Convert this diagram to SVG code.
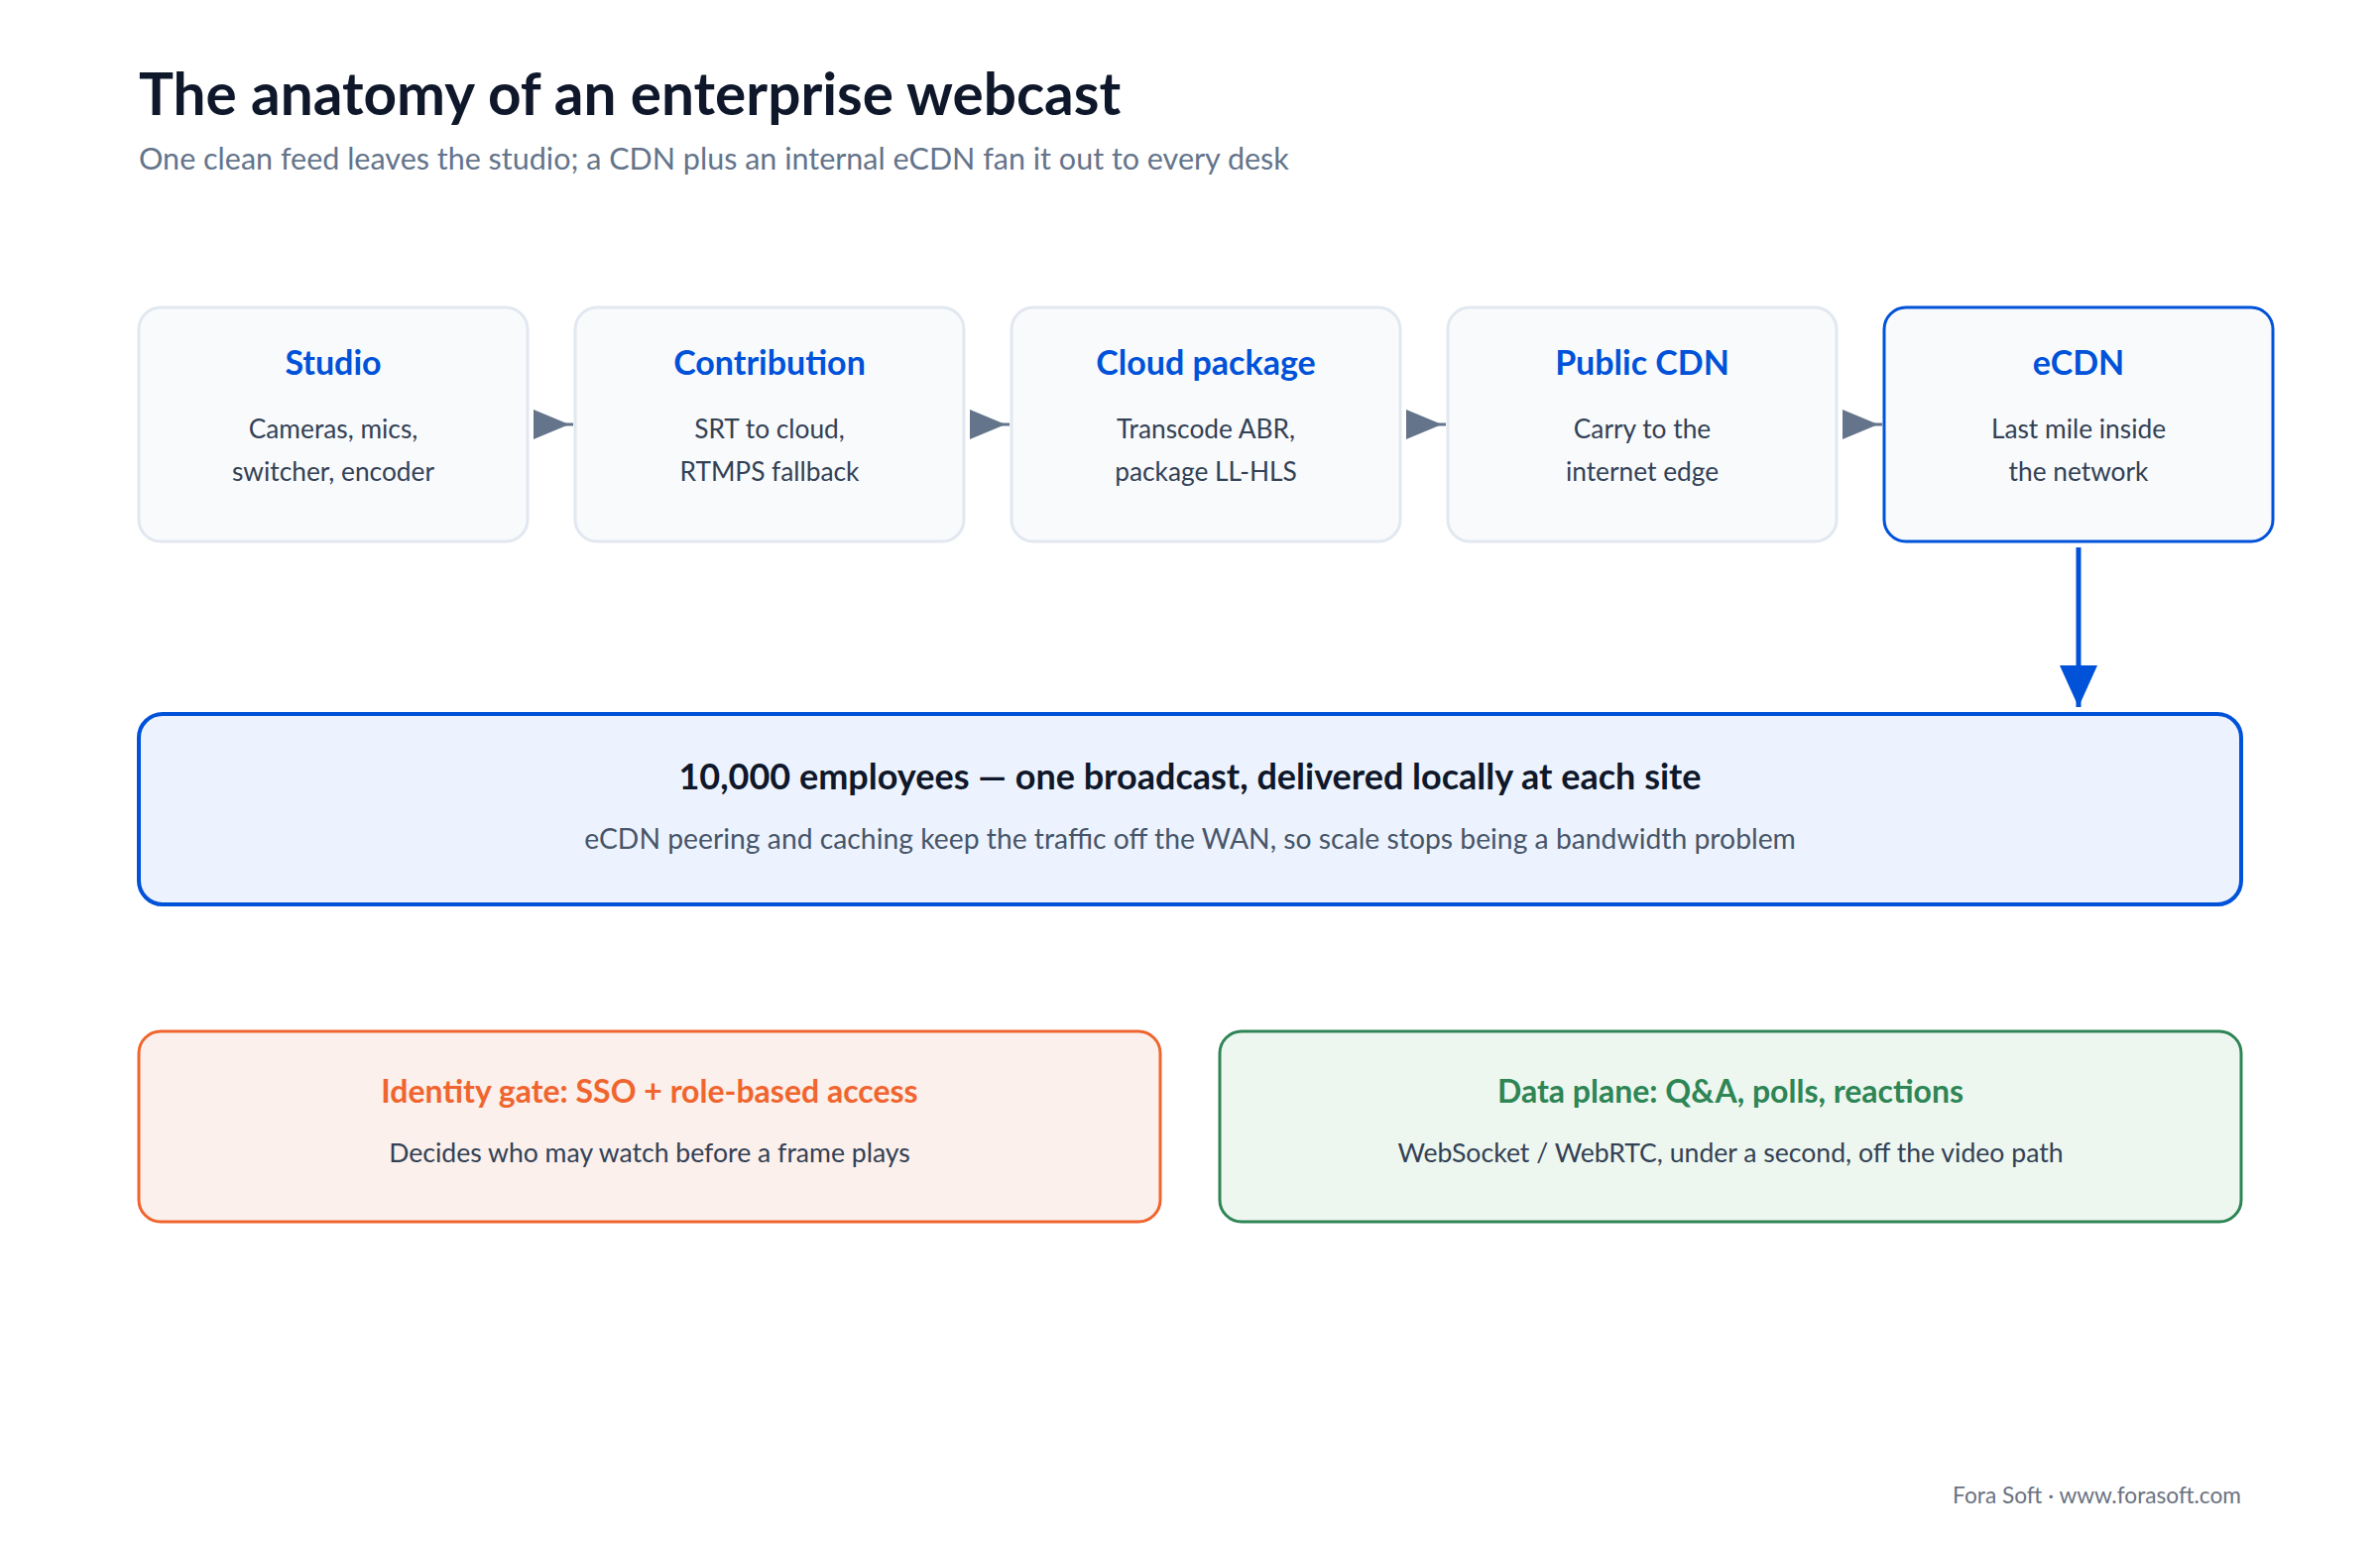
<svg xmlns="http://www.w3.org/2000/svg" width="2400" height="1560" viewBox="0 0 2400 1560">
<style>
text{font-family:Lato,"Noto Sans","Liberation Sans",sans-serif}
.h1{font-size:58.5px;font-weight:700;fill:#0f172a}
.sub{font-size:30.5px;fill:#64748b}
.node{fill:#f8fafc;stroke:#e2e8f0;stroke-width:3}
.nodeHi{fill:#f8fafc;stroke:#0052d9;stroke-width:3}
.nt{font-size:34px;font-weight:700;fill:#0052d9;text-anchor:middle}
.nb{font-size:26.3px;fill:#334155;text-anchor:middle}
.bt{font-size:36px;font-weight:700;fill:#0f172a;text-anchor:middle}
.bb{font-size:28.3px;fill:#475569;text-anchor:middle}
.ot{font-size:32px;font-weight:700;fill:#f0652f;text-anchor:middle}
.gt{font-size:32px;font-weight:700;fill:#2e8555;text-anchor:middle}
.cb{font-size:26.6px;fill:#334155;text-anchor:middle}
.foot{font-size:22.7px;fill:#6b7280;text-anchor:end}
.flow{stroke:#64748b;stroke-width:3;fill:none}
</style>
<defs>
<marker id="ag" markerUnits="userSpaceOnUse" markerWidth="44" markerHeight="34" refX="40" refY="15" orient="auto">
<path d="M0,0 L36,15 L0,30 Z" fill="#64748b"/>
</marker>
<marker id="ab" markerUnits="userSpaceOnUse" markerWidth="44" markerHeight="46" refX="42" refY="19" orient="auto">
<path d="M0,0 L42,19 L0,38 Z" fill="#0052d9"/>
</marker>
</defs>
<rect width="2400" height="1560" fill="#ffffff"/>
<text class="h1" x="140" y="116">The anatomy of an enterprise webcast</text>
<text class="sub" x="140" y="171">One clean feed leaves the studio; a CDN plus an internal eCDN fan it out to every desk</text>

<g id="studio">
<rect class="node" x="140" y="310" width="392" height="236" rx="22"/>
<text class="nt" x="336" y="378">Studio</text>
<text class="nb" x="336" y="442">Cameras, mics,</text>
<text class="nb" x="336" y="485">switcher, encoder</text>
</g>
<g id="contribution">
<rect class="node" x="580" y="310" width="392" height="236" rx="22"/>
<text class="nt" x="776" y="378">Contribution</text>
<text class="nb" x="776" y="442">SRT to cloud,</text>
<text class="nb" x="776" y="485">RTMPS fallback</text>
</g>
<g id="cloud-package">
<rect class="node" x="1020" y="310" width="392" height="236" rx="22"/>
<text class="nt" x="1216" y="378">Cloud package</text>
<text class="nb" x="1216" y="442">Transcode ABR,</text>
<text class="nb" x="1216" y="485">package LL-HLS</text>
</g>
<g id="public-cdn">
<rect class="node" x="1460" y="310" width="392" height="236" rx="22"/>
<text class="nt" x="1656" y="378">Public CDN</text>
<text class="nb" x="1656" y="442">Carry to the</text>
<text class="nb" x="1656" y="485">internet edge</text>
</g>
<g id="ecdn">
<rect class="nodeHi" x="1900" y="310" width="392" height="236" rx="22"/>
<text class="nt" x="2096" y="378">eCDN</text>
<text class="nb" x="2096" y="442">Last mile inside</text>
<text class="nb" x="2096" y="485">the network</text>
</g>

<g id="audience">
<rect x="140" y="720" width="2120" height="192" rx="24" fill="#ecf3fe" stroke="#0052d9" stroke-width="4"/>
<text class="bt" x="1200" y="796">10,000 employees — one broadcast, delivered locally at each site</text>
<text class="bb" x="1200" y="856">eCDN peering and caching keep the traffic off the WAN, so scale stops being a bandwidth problem</text>
</g>

<g id="identity">
<rect x="140" y="1040" width="1030" height="192" rx="22" fill="#fbf0eb" stroke="#f0652f" stroke-width="3"/>
<text class="ot" x="655" y="1112">Identity gate: SSO + role-based access</text>
<text class="cb" x="655" y="1172">Decides who may watch before a frame plays</text>
</g>
<g id="data-plane">
<rect x="1230" y="1040" width="1030" height="192" rx="22" fill="#edf7ef" stroke="#2e8555" stroke-width="3"/>
<text class="gt" x="1745" y="1112">Data plane: Q&amp;A, polls, reactions</text>
<text class="cb" x="1745" y="1172">WebSocket / WebRTC, under a second, off the video path</text>
</g>

<g id="connectors">
<line class="flow" x1="542" y1="428" x2="578" y2="428" marker-end="url(#ag)"/>
<line class="flow" x1="982" y1="428" x2="1018" y2="428" marker-end="url(#ag)"/>
<line class="flow" x1="1422" y1="428" x2="1458" y2="428" marker-end="url(#ag)"/>
<line class="flow" x1="1862" y1="428" x2="1898" y2="428" marker-end="url(#ag)"/>
<line x1="2096" y1="552" x2="2096" y2="713" stroke="#0052d9" stroke-width="5" marker-end="url(#ab)"/>
</g>

<text class="foot" x="2260" y="1516">Fora Soft · www.forasoft.com</text>
</svg>
